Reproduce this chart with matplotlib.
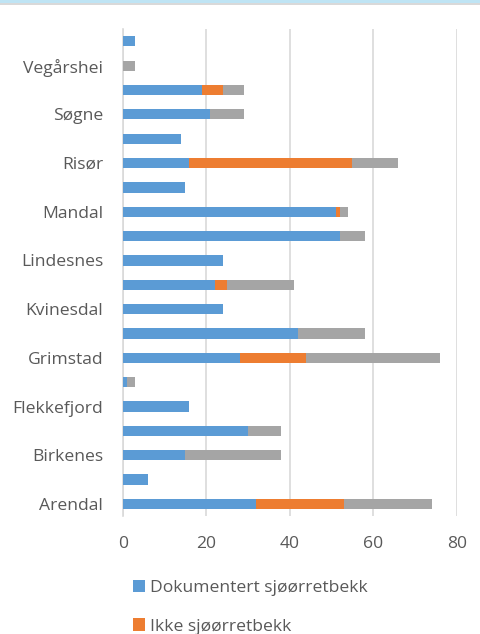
import numpy as np
import matplotlib.pyplot as plt
from matplotlib.patches import Patch, Rectangle

plt.rcParams['font.family'] = ['Open Sans', 'DejaVu Sans']

# municipalities, bottom to top (only every other name is printed, as in the original)
kommuner = ['Arendal', 'Audnedal', 'Birkenes', 'Farsund', 'Flekkefjord', 'Gjerstad',
            'Grimstad', 'Kristiansand', 'Kvinesdal', 'Lillesand', 'Lindesnes', 'Lyngdal',
            'Mandal', 'Marnardal', 'Risør', 'Songdalen', 'Søgne', 'Tvedestrand',
            'Vegårshei', 'Vennesla']
dokumentert = [32, 6, 15, 30, 16, 1, 28, 42, 24, 22, 24, 52, 51, 15, 16, 14, 21, 19, 0, 3]
ikke_sjoorret = [21, 0, 0, 0, 0, 0, 16, 0, 0, 3, 0, 0, 1, 0, 39, 0, 0, 5, 0, 0]
ukjent = [21, 0, 23, 8, 0, 2, 32, 16, 0, 16, 0, 6, 2, 0, 11, 0, 8, 5, 3, 0]

serier = ['Dokumentert sjøørretbekk', 'Ikke sjøørretbekk', 'Ukjent']
farger = ['#5b9bd5', '#ed7d31', '#a5a5a5']

fig = plt.figure(figsize=(4.8, 6.34), dpi=100)
ax = fig.add_axes([0.2556, 0.186, 0.6959, 0.768])

y = np.arange(len(kommuner))
left = np.zeros(len(kommuner))
for vals, farge, navn in zip([dokumentert, ikke_sjoorret, ukjent], farger, serier):
    vals = np.array(vals, dtype=float)
    ax.barh(y, vals, left=left, height=0.42, color=farge, label=navn, zorder=3)
    left += vals

ax.set_xlim(0, 80)
ax.set_ylim(-0.5, len(kommuner) - 0.5)
ax.set_xticks([0, 20, 40, 60, 80])
ax.set_yticks(y)
ax.set_yticklabels([k if i % 2 == 0 else '' for i, k in enumerate(kommuner)])
ax.tick_params(axis='both', length=0, labelsize=12.6, colors='#595959')
ax.tick_params(axis='y', pad=14)
ax.tick_params(axis='x', pad=14)
ax.grid(axis='x', color='#d9d9d9', linewidth=1.2, zorder=0)
for s in ['top', 'right', 'bottom']:
    ax.spines[s].set_visible(False)
ax.spines['left'].set_color('#d9d9d9')
ax.spines['left'].set_linewidth(1.2)

# the third legend entry falls below the cropped screenshot, so only two are shown
handles = [Patch(facecolor=f, edgecolor='none') for f in farger[:2]]
fig.legend(handles, serier[:2], loc='upper left', bbox_to_anchor=(0.262, 0.096), frameon=False,
           fontsize=12.6, labelcolor='#595959', handlelength=0.7, handleheight=0.7,
           handletextpad=0.3, labelspacing=1.25, borderaxespad=0)

# thin strip at the top of the screenshot
fig.patches.append(Rectangle((0, 1 - 3 / 634), 1, 3 / 634, transform=fig.transFigure,
                             facecolor='#bfe4f4', edgecolor='none'))
fig.patches.append(Rectangle((0, 1 - 5 / 634), 1, 2 / 634, transform=fig.transFigure,
                             facecolor='#d9d9d9', edgecolor='none'))

fig.savefig('out.png', dpi=100)
